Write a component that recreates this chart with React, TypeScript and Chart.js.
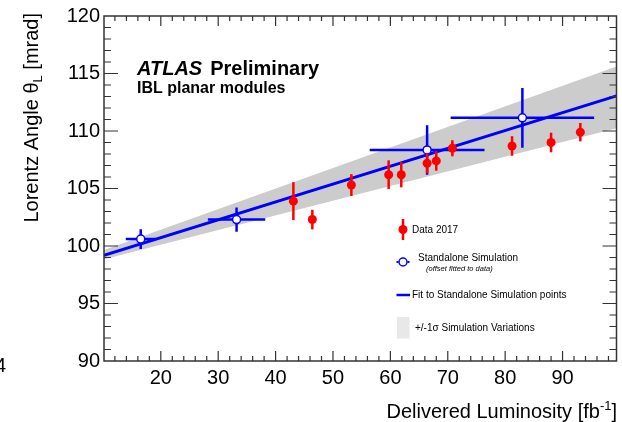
import { useEffect, useRef } from "react";
import { Chart, registerables } from "chart.js";

Chart.register(...registerables);

// Data 2017: measured Lorentz angle vs delivered luminosity
const dataLumi = [43.1, 46.4, 53.2, 59.7, 61.9, 66.4, 68.0, 70.8, 81.2, 88.0, 93.1];
const dataAngle = [103.9, 102.3, 105.3, 106.2, 106.2, 107.2, 107.4, 108.5, 108.7, 109.0, 109.9];
const dataAngleErr = [1.65, 0.85, 0.95, 1.25, 1.1, 0.9, 0.85, 0.7, 0.85, 0.85, 0.8];

// Standalone simulation points (offset fitted to data)
const simLumi = [16.5, 33.2, 66.4, 83.0];
const simLumiErr = [2.6, 5.0, 10.0, 12.5];
const simAngle = [100.6, 102.3, 108.35, 111.15];
const simAngleErr = [0.85, 1.05, 2.15, 2.6];

// Linear fit to the simulation points
const fitLumi = [10.1, 99.4];
const fitAngle = [99.2, 113.05];

// +/-1 sigma simulation variation band
const bandLumi = [10.1, 99.4];
const bandUpper = [99.65, 115.6];
const bandLower = [98.85, 110.25];

// Axis labels
const xTickValues = [20, 30, 40, 50, 60, 70, 80, 90];
const yTickValues = [90, 95, 100, 105, 110, 115, 120];

const FONT = '"Liberation Sans", Arial, Helvetica, sans-serif';
const RED = "#ff0000";
const BLUE = "#0000ff";

const pts = (xs: number[], ys: number[]) => xs.map((x, i) => ({ x, y: ys[i] }));

const errorBars = {
  id: "errorBars",
  beforeDatasetDraw(chart: any, args: any) {
    const ds = chart.data.datasets[args.index];
    const kind = ds.errKind;
    if (!kind) return;
    const xs = chart.scales.x;
    const ys = chart.scales.y;
    const ctx = chart.ctx;
    ctx.save();
    ctx.lineCap = "butt";
    if (kind === "data") {
      ctx.strokeStyle = RED;
      ctx.lineWidth = 2.5;
      dataLumi.forEach((x, i) => {
        const px = xs.getPixelForValue(x);
        ctx.beginPath();
        ctx.moveTo(px, ys.getPixelForValue(dataAngle[i] - dataAngleErr[i]));
        ctx.lineTo(px, ys.getPixelForValue(dataAngle[i] + dataAngleErr[i]));
        ctx.stroke();
      });
    } else {
      ctx.strokeStyle = BLUE;
      ctx.lineWidth = 2.5;
      simLumi.forEach((x, i) => {
        const px = xs.getPixelForValue(x);
        const py = ys.getPixelForValue(simAngle[i]);
        ctx.beginPath();
        ctx.moveTo(px, ys.getPixelForValue(simAngle[i] - simAngleErr[i]));
        ctx.lineTo(px, ys.getPixelForValue(simAngle[i] + simAngleErr[i]));
        ctx.moveTo(xs.getPixelForValue(x - simLumiErr[i]), py);
        ctx.lineTo(xs.getPixelForValue(x + simLumiErr[i]), py);
        ctx.stroke();
      });
    }
    ctx.restore();
  },
};

const frameAndText = {
  id: "frameAndText",
  afterDraw(chart: any) {
    const ctx = chart.ctx;
    const { left, right, top, bottom } = chart.chartArea;
    const xs = chart.scales.x;
    const ys = chart.scales.y;
    ctx.save();

    // frame
    ctx.strokeStyle = "#333";
    ctx.lineWidth = 1.5;
    ctx.strokeRect(left, top, right - left, bottom - top);

    // inward ticks on all four sides
    ctx.lineWidth = 1.2;
    ctx.beginPath();
    for (let v = 12; v <= 98; v += 2) {
      const px = xs.getPixelForValue(v);
      const len = v % 10 === 0 ? 10 : 5;
      ctx.moveTo(px, bottom);
      ctx.lineTo(px, bottom - len);
      ctx.moveTo(px, top);
      ctx.lineTo(px, top + len);
    }
    for (let v = 91; v <= 119; v += 1) {
      const py = ys.getPixelForValue(v);
      const len = v % 5 === 0 ? 14 : 7;
      ctx.moveTo(left, py);
      ctx.lineTo(left + len, py);
      ctx.moveTo(right, py);
      ctx.lineTo(right - len, py);
    }
    ctx.stroke();

    ctx.fillStyle = "#000";
    ctx.textBaseline = "alphabetic";

    // x axis title with superscript
    {
      const main = "Delivered Luminosity [fb";
      const sup = "-1";
      const close = "]";
      ctx.font = `20px ${FONT}`;
      const wMain = ctx.measureText(main).width;
      const wClose = ctx.measureText(close).width;
      ctx.font = `13px ${FONT}`;
      const wSup = ctx.measureText(sup).width;
      const xEnd = 617;
      const base = 418;
      let x = xEnd - wClose - wSup - wMain;
      ctx.textAlign = "left";
      ctx.font = `20px ${FONT}`;
      ctx.fillText(main, x, base);
      x += wMain;
      ctx.font = `13px ${FONT}`;
      ctx.fillText(sup, x, base - 8);
      x += wSup;
      ctx.font = `20px ${FONT}`;
      ctx.fillText(close, x, base);
    }

    // y axis title with subscript, rotated
    {
      const a = "Lorentz Angle \u03b8";
      const sub = "L";
      const b = " [mrad]";
      ctx.font = `20px ${FONT}`;
      const wa = ctx.measureText(a).width;
      const wb = ctx.measureText(b).width;
      ctx.font = `13px ${FONT}`;
      const ws = ctx.measureText(sub).width;
      const total = wa + ws + wb;
      ctx.save();
      ctx.translate(38, 13);
      ctx.rotate(-Math.PI / 2);
      ctx.textAlign = "left";
      let x = -total;
      ctx.font = `20px ${FONT}`;
      ctx.fillText(a, x, 0);
      x += wa;
      ctx.font = `13px ${FONT}`;
      ctx.fillText(sub, x, 4);
      x += ws;
      ctx.font = `20px ${FONT}`;
      ctx.fillText(b, x, 0);
      ctx.restore();
    }

    // stray label fragment at the left edge
    ctx.font = `20px ${FONT}`;
    ctx.textAlign = "left";
    ctx.fillText("4", -5, 372);

    // ATLAS label
    ctx.font = `italic bold 20px ${FONT}`;
    ctx.fillText("ATLAS", 137, 75);
    const wAtlas = ctx.measureText("ATLAS").width;
    ctx.font = `bold 20px ${FONT}`;
    ctx.fillText("Preliminary", 137 + wAtlas + 8, 75);
    ctx.font = `bold 16px ${FONT}`;
    ctx.fillText("IBL planar modules", 137, 93);

    // legend
    ctx.textBaseline = "middle";
    ctx.font = `10px ${FONT}`;
    // Data 2017
    ctx.strokeStyle = RED;
    ctx.lineWidth = 2.5;
    ctx.beginPath();
    ctx.moveTo(403, 219);
    ctx.lineTo(403, 240);
    ctx.stroke();
    ctx.fillStyle = RED;
    ctx.beginPath();
    ctx.arc(403, 229.5, 4.5, 0, Math.PI * 2);
    ctx.fill();
    ctx.fillStyle = "#000";
    ctx.fillText("Data 2017", 412, 230);

    // Standalone simulation
    ctx.strokeStyle = BLUE;
    ctx.lineWidth = 2;
    ctx.beginPath();
    ctx.moveTo(396.5, 262);
    ctx.lineTo(398.5, 262);
    ctx.moveTo(407.5, 262);
    ctx.lineTo(409.5, 262);
    ctx.stroke();
    ctx.fillStyle = "#fff";
    ctx.lineWidth = 1.5;
    ctx.beginPath();
    ctx.arc(403, 262, 4, 0, Math.PI * 2);
    ctx.fill();
    ctx.stroke();
    ctx.fillStyle = "#000";
    ctx.fillText("Standalone Simulation", 418, 258.5);
    ctx.font = `italic 7.5px ${FONT}`;
    ctx.fillText("(offset fitted to data)", 426, 268.5);

    // Fit
    ctx.font = `10px ${FONT}`;
    ctx.strokeStyle = BLUE;
    ctx.lineWidth = 2.5;
    ctx.beginPath();
    ctx.moveTo(396.5, 295);
    ctx.lineTo(410, 295);
    ctx.stroke();
    ctx.fillText("Fit to Standalone Simulation points", 412, 295);

    // Band
    ctx.fillStyle = "#e8e8e8";
    ctx.fillRect(397, 317, 12.5, 21.5);
    ctx.fillStyle = "#000";
    ctx.fillText("+/-1\u03c3 Simulation Variations", 415, 328.5);

    ctx.restore();
  },
};

export default function App() {
  const ref = useRef<HTMLCanvasElement | null>(null);

  useEffect(() => {
    if (!ref.current) return;
    const chart = new Chart(ref.current, {
      type: "scatter",
      data: {
        datasets: [
          {
            type: "scatter",
            label: "Data 2017",
            data: pts(dataLumi, dataAngle),
            backgroundColor: RED,
            borderWidth: 0,
            pointRadius: 4.5,
            order: 0,
            errKind: "data",
          } as any,
          {
            type: "scatter",
            label: "Standalone Simulation",
            data: pts(simLumi, simAngle),
            backgroundColor: "#ffffff",
            borderColor: BLUE,
            borderWidth: 1.5,
            pointRadius: 4,
            order: 1,
            errKind: "sim",
          } as any,
          {
            type: "line",
            label: "Fit to Standalone Simulation points",
            data: pts(fitLumi, fitAngle),
            borderColor: BLUE,
            borderWidth: 3,
            pointRadius: 0,
            fill: false,
            order: 2,
          },
          {
            type: "line",
            label: "upper",
            data: pts(bandLumi, bandUpper),
            borderWidth: 0,
            borderColor: "rgba(0,0,0,0)",
            pointRadius: 0,
            fill: false,
            order: 3,
          },
          {
            type: "line",
            label: "+/-1\u03c3 Simulation Variations",
            data: pts(bandLumi, bandLower),
            borderWidth: 0,
            borderColor: "rgba(0,0,0,0)",
            backgroundColor: "#cccccc",
            pointRadius: 0,
            fill: "-1",
            order: 4,
          },
        ],
      },
      options: {
        animation: false,
        responsive: false,
        devicePixelRatio: 1,
        layout: { padding: { top: 16, right: 4, left: 0, bottom: 0 } },
        plugins: {
          legend: { display: false },
          tooltip: { enabled: false },
          title: { display: false },
        },
        scales: {
          x: {
            type: "linear",
            min: 10.1,
            max: 99.4,
            grid: { display: false, drawTicks: false },
            border: { display: false },
            ticks: {
              color: "#000",
              font: { family: FONT, size: 20 },
              padding: 5,
              maxRotation: 0,
              autoSkip: false,
            },
            afterBuildTicks: (s: any) => {
              s.ticks = xTickValues.map((value) => ({ value }));
            },
            afterFit: (s: any) => {
              s.height = 61;
            },
          },
          y: {
            type: "linear",
            min: 90,
            max: 120,
            grid: { display: false, drawTicks: false },
            border: { display: false },
            ticks: {
              color: "#000",
              font: { family: FONT, size: 20 },
              padding: 4,
              autoSkip: false,
            },
            afterBuildTicks: (s: any) => {
              s.ticks = yTickValues.map((value) => ({ value }));
            },
            afterFit: (s: any) => {
              s.width = 104;
            },
          },
        },
      } as any,
      plugins: [errorBars, frameAndText],
    });
    return () => chart.destroy();
  }, []);

  return (
    <div style={{ position: "fixed", left: 0, top: 0, width: 622, height: 422, background: "#fff" }}>
      <canvas ref={ref} width={622} height={422} style={{ display: "block" }} />
    </div>
  );
}
